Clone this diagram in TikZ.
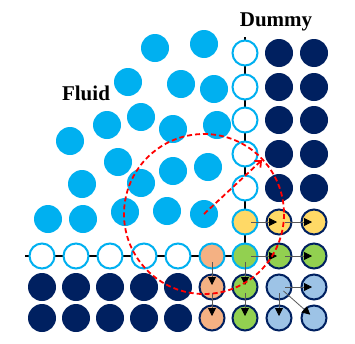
\documentclass[tikz,border=0pt]{standalone}
\usepackage{fontspec}
\setmainfont{Liberation Serif}
\usetikzlibrary{arrows.meta}
\definecolor{fluidblue}{HTML}{00B0F0}
\definecolor{navy}{HTML}{002060}
\definecolor{ghostyellow}{HTML}{FFD966}
\definecolor{ghostgreen}{HTML}{92D050}
\definecolor{ghostorange}{HTML}{F4B183}
\definecolor{ghostblue}{HTML}{9DC3E6}
\tikzset{
  fluid/.style={
    shape = circle,
    inner sep = 0pt,
    minimum size = 28pt,
    fill = fluidblue
  },
  dummy/.style={
    shape = circle,
    inner sep = 0pt,
    minimum size = 28pt,
    fill = navy
  },
  wall/.style={
    shape = circle,
    inner sep = 0pt,
    minimum size = 25pt,
    line width = 2pt,
    draw = fluidblue,
    fill = white
  },
  ghost/.style={
    shape = circle,
    inner sep = 0pt,
    minimum size = 25pt,
    line width = 2pt,
    draw = navy,
    fill = #1
  },
  move/.style={
    draw = black!65,
    line width = 0.8pt,
    shorten < = 6pt,
    shorten > = 2pt,
    -{Triangle[black,length=8pt,width=8pt]}
  },
  kernel/.style={
    draw = red,
    line width = 1.8pt,
    dash pattern = on 5pt off 3pt
  },
  label/.style={
    font = \bfseries\fontsize{21}{24}\selectfont
  }
}

\begin{document}
\begin{tikzpicture}[x=1pt,y=-1pt]
  \useasboundingbox (0,0) rectangle (355,343);
  % wall line
  \coordinate (wleft) at (25,256);
  \coordinate (corner) at (245,256);
  \coordinate (wtop) at (245,37);
  \draw[line width=2pt] (wleft) -- (corner) -- (wtop);
  % fluid particles
  \node[fluid] (f1) at (155,48) {};
  \node[fluid] (f2) at (204,44) {};
  \node[fluid] (f3) at (128,82) {};
  \node[fluid] (f4) at (181,84) {};
  \node[fluid] (f5) at (214,89) {};
  \node[fluid] (f6) at (107,125) {};
  \node[fluid] (f7) at (141,117) {};
  \node[fluid] (f8) at (173,129) {};
  \node[fluid] (f9) at (217,125) {};
  \node[fluid] (f10) at (70,141) {};
  \node[fluid] (f11) at (118,162) {};
  \node[fluid] (f12) at (173,171) {};
  \node[fluid] (f13) at (208,167) {};
  \node[fluid] (f14) at (82,184) {};
  \node[fluid] (f15) at (141,183) {};
  \node[fluid] (f16) at (48,219) {};
  \node[fluid] (f17) at (83,219) {};
  \node[fluid] (f18) at (125,212) {};
  \node[fluid] (f19) at (167,211) {};
  \node[fluid] (f20) at (204,214) {};
  % wall particles
  \node[wall] (w1) at (245,53) {};
  \node[wall] (w2) at (245,87) {};
  \node[wall] (w3) at (245,120) {};
  \node[wall] (w4) at (245,154) {};
  \node[wall] (w5) at (245,188) {};
  \node[wall] (w6) at (42,256) {};
  \node[wall] (w7) at (76,256) {};
  \node[wall] (w8) at (110,256) {};
  \node[wall] (w9) at (144,256) {};
  \node[wall] (w10) at (178,256) {};
  % dummy particles
  \node[dummy] (d1) at (279,53) {};
  \node[dummy] (d2) at (314,53) {};
  \node[dummy] (d3) at (279,87) {};
  \node[dummy] (d4) at (314,87) {};
  \node[dummy] (d5) at (279,120) {};
  \node[dummy] (d6) at (314,120) {};
  \node[dummy] (d7) at (279,154) {};
  \node[dummy] (d8) at (314,154) {};
  \node[dummy] (d9) at (279,188) {};
  \node[dummy] (d10) at (314,188) {};
  \node[dummy] (d11) at (42,287) {};
  \node[dummy] (d12) at (76,287) {};
  \node[dummy] (d13) at (110,287) {};
  \node[dummy] (d14) at (144,287) {};
  \node[dummy] (d15) at (178,287) {};
  \node[dummy] (d16) at (42,318) {};
  \node[dummy] (d17) at (76,318) {};
  \node[dummy] (d18) at (110,318) {};
  \node[dummy] (d19) at (144,318) {};
  \node[dummy] (d20) at (178,318) {};
  % mirrored particles
  \node[ghost=ghostyellow, draw=fluidblue] (y1) at (245,222) {};
  \node[ghost=ghostyellow] (y2) at (279,222) {};
  \node[ghost=ghostyellow] (y3) at (314,222) {};
  \node[ghost=ghostgreen, draw=fluidblue] (g1) at (245,256) {};
  \node[ghost=ghostgreen] (g2) at (279,256) {};
  \node[ghost=ghostgreen] (g3) at (314,256) {};
  \node[ghost=ghostgreen] (g4) at (245,287) {};
  \node[ghost=ghostgreen] (g5) at (245,318) {};
  \node[ghost=ghostorange, draw=fluidblue] (o1) at (212,256) {};
  \node[ghost=ghostorange] (o2) at (212,287) {};
  \node[ghost=ghostorange] (o3) at (212,318) {};
  \node[ghost=ghostblue] (b1) at (279,287) {};
  \node[ghost=ghostblue] (b2) at (314,287) {};
  \node[ghost=ghostblue] (b3) at (279,318) {};
  \node[ghost=ghostblue] (b4) at (314,318) {};
  % copying arrows
  \draw[move] (y1.center) -- (y2.center);
  \draw[move] (y2.center) -- (y3.center);
  \draw[move] (g1.center) -- (g2.center);
  \draw[move] (g2.center) -- (g3.center);
  \draw[move] (g1.center) -- (g4.center);
  \draw[move] (g4.center) -- (g5.center);
  \draw[move] (o1.center) -- (o2.center);
  \draw[move] (o2.center) -- (o3.center);
  \draw[move] (b1.center) -- (b2.center);
  \draw[move] (b1.center) -- (b3.center);
  \draw[move, shorten >=5pt] (b1.center) -- (b4.center);
  % kernel support
  \coordinate (reach) at (262,160);
  \draw[kernel] (f20.center) circle (80);
  \draw[kernel, -{Straight Barb[length=5pt,width=9pt]}] (f20.center) -- (reach);
  % labels
  \node[label] (fluidlabel) at (86,93) {Fluid};
  \node[label] (dummylabel) at (276,22) {Dummy};
\end{tikzpicture}
\end{document}
